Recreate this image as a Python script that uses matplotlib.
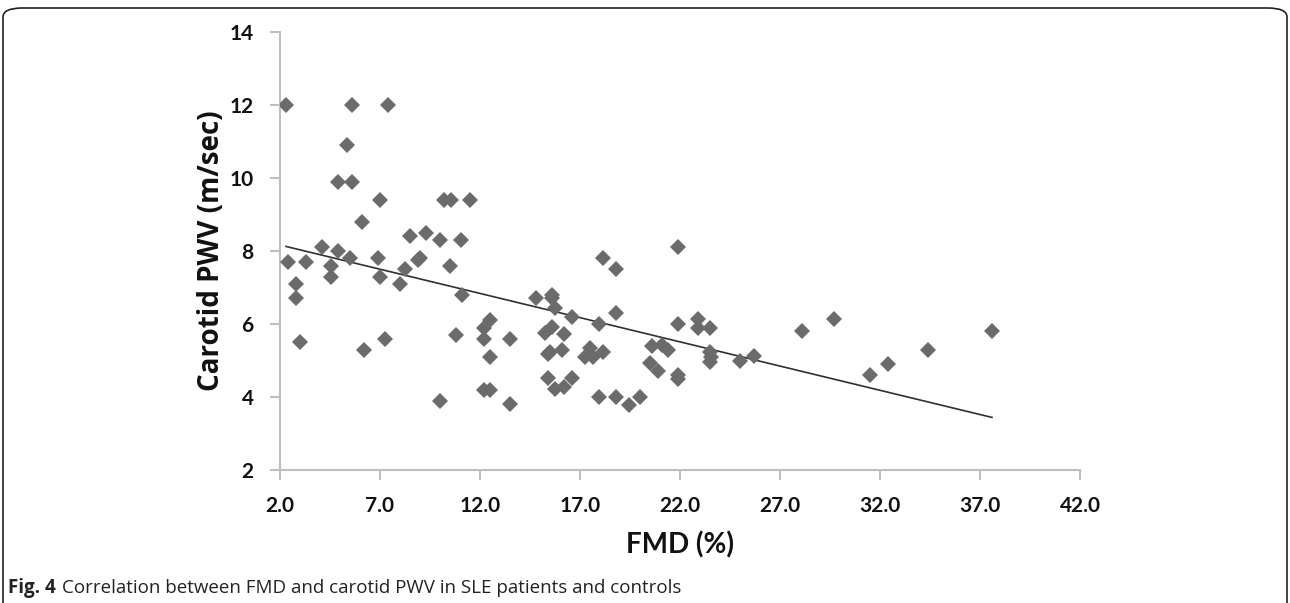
import matplotlib.pyplot as plt
import numpy as np
from matplotlib.patches import FancyBboxPatch

# FMD (%) and carotid PWV (m/sec)
fmd = [2.3, 5.6, 7.4, 5.35, 4.9, 5.6, 7.0, 6.1, 10.2, 10.55, 11.5,
       9.3, 8.5, 10.0, 11.05, 4.1, 4.9, 5.5, 2.4, 3.3, 4.55, 6.9,
       8.9, 9.0, 8.25, 10.5, 4.55, 7.0, 8.0, 2.8, 2.8, 11.1, 3.0,
       6.2, 7.25, 10.0, 10.8, 12.2, 12.5, 12.2, 12.5, 12.2, 12.5,
       13.5, 13.5, 14.8, 15.6, 15.6, 15.75, 16.6, 15.25, 15.6, 16.2,
       15.4, 15.5, 16.1, 15.4, 15.75, 16.2, 16.6, 17.25, 17.5, 17.67,
       18.17, 17.95, 18.17, 18.8, 18.8, 17.95, 18.8, 19.45, 20.0,
       21.9, 21.9, 20.5, 20.6, 21.1, 21.4, 20.9, 21.9, 21.9, 22.9,
       22.9, 23.5, 23.5, 23.55, 23.5, 25.0, 25.7, 28.1, 29.7, 31.5,
       32.4, 34.4, 37.6]
pwv = [12.0, 12.0, 12.0, 10.9, 9.9, 9.9, 9.4, 8.8, 9.4, 9.4, 9.4,
       8.5, 8.4, 8.3, 8.3, 8.1, 8.0, 7.8, 7.7, 7.7, 7.6, 7.8,
       7.75, 7.8, 7.5, 7.6, 7.3, 7.3, 7.1, 7.1, 6.7, 6.8, 5.5,
       5.3, 5.6, 3.9, 5.7, 5.9, 6.1, 5.6, 5.1, 4.2, 4.2,
       5.6, 3.8, 6.7, 6.8, 6.7, 6.43, 6.2, 5.75, 5.93, 5.72,
       5.18, 5.24, 5.3, 4.51, 4.21, 4.28, 4.51, 5.1, 5.33, 5.1,
       5.22, 6.0, 7.82, 7.5, 6.3, 4.0, 4.0, 3.78, 4.0,
       8.12, 6.0, 4.92, 5.4, 5.42, 5.3, 4.71, 4.6, 4.5, 6.13,
       5.9, 5.9, 5.24, 5.1, 4.97, 5.0, 5.12, 5.8, 6.13, 4.6,
       4.9, 5.3, 5.8]

# linear trendline as drawn in the figure (slope, intercept)
trend = [-0.1327, 8.43]

xticks = [2, 7, 12, 17, 22, 27, 32, 37, 42]
yticks = [2, 4, 6, 8, 10, 12, 14]

x = np.array(fmd)
y = np.array(pwv)
xl = np.array([x.min(), x.max()])

fig = plt.figure(figsize=(12.9, 6.03), dpi=100)
ax = fig.add_axes([280/1290, 1 - 470/603, 800/1290, 438/603])

ax.plot(x, y, linestyle='none', marker='D', ms=8.5, color='#6b6b6b',
        markeredgewidth=0, zorder=3)
ax.plot(xl, trend[0] * xl + trend[1], color='#303030', lw=1.2, zorder=2)

ax.set_xlim(2, 42)
ax.set_ylim(2, 14)
ax.set_xticks(xticks)
ax.set_yticks(yticks)
ax.set_xticklabels(['%.1f' % t for t in xticks])
ax.set_yticklabels([str(t) for t in yticks])

for s in ['top', 'right']:
    ax.spines[s].set_visible(False)
for s in ['left', 'bottom']:
    ax.spines[s].set_color('#bfbfbf')
    ax.spines[s].set_linewidth(1.5)
ax.tick_params(axis='both', colors='#bfbfbf', width=1.5, length=7)
ax.tick_params(axis='x', pad=12, labelcolor='#111111', labelsize=15)
ax.tick_params(axis='y', pad=12, labelcolor='#111111', labelsize=15)
for lab in ax.get_xticklabels() + ax.get_yticklabels():
    lab.set_fontweight('bold')
    lab.set_fontfamily('Lato')

ax.set_xlabel('FMD (%)', fontsize=20, fontweight='bold', family='Lato',
              color='#111111')
ax.set_ylabel('Carotid PWV (m/sec)', fontsize=20, fontweight='bold',
              family='Open Sans', color='#111111')
ax.xaxis.set_label_coords(0.5, -(531 - 470) / 438)
ax.yaxis.set_label_coords(-(280 - 226) / 800, 0.5)

fig.text(8/1290, 1 - 588/603, 'Fig. 4', fontsize=13.5, fontweight='bold',
         family='Open Sans', va='center', color='#222222')
fig.text(62/1290, 1 - 588/603,
         'Correlation between FMD and carotid PWV in SLE patients and controls',
         fontsize=13.5, family='Open Sans', va='center', color='#222222')

# rounded frame around the panel
frame = FancyBboxPatch((3/1290, -0.05), 1284/1290, 1.05 - 8/603,
                       boxstyle='round,pad=0,rounding_size=0.015',
                       transform=fig.transFigure, fill=False,
                       edgecolor='#222222', lw=1.2)
fig.patches.append(frame)

fig.savefig('out.png', dpi=100)
